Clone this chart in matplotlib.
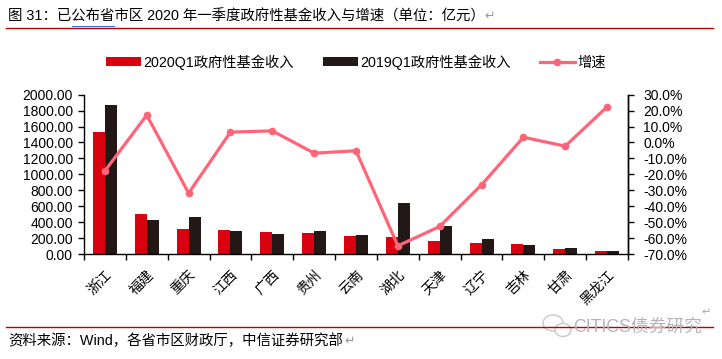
import numpy as np
import matplotlib.pyplot as plt
from matplotlib.lines import Line2D
from matplotlib.patches import Ellipse
from matplotlib.ticker import FuncFormatter, MultipleLocator, FixedLocator

plt.rcParams['font.family'] = ['Liberation Sans', 'Noto Sans CJK SC', 'DejaVu Sans']
plt.rcParams['font.size'] = 10

provinces = ['浙江', '福建', '重庆', '江西', '广西', '贵州', '云南',
             '湖北', '天津', '辽宁', '吉林', '甘肃', '黑龙江']
rev_2020q1 = [1537, 500, 312, 300, 275, 262, 225, 212, 162, 137, 125, 62, 37]
rev_2019q1 = [1875, 425, 462, 287, 250, 287, 237, 637, 350, 187, 112, 75, 37]
growth = [-17.8, 17.2, -31.8, 6.5, 7.3, -6.7, -5.2, -64.9, -52.7, -26.6, 3.3, -2.3, 22.4]

red = '#D9000F'
dark = '#231815'
pink = '#FF6479'
W, H = 722, 359

fig = plt.figure(figsize=(7.22, 3.59), dpi=100)
ax = fig.add_axes([84 / W, 1 - 254 / H, (628 - 84) / W, (254 - 94.7) / H])
ax2 = ax.twinx()

x = np.arange(len(provinces))
w = 0.286
ax.bar(x - w / 2, rev_2020q1, w, color=red, label='2020Q1政府性基金收入')
ax.bar(x + w / 2, rev_2019q1, w, color=dark, label='2019Q1政府性基金收入')
ax2.plot(x, growth, color=pink, lw=2.3, marker='o', ms=4.5, label='增速')

ax.set_xlim(-0.5, len(provinces) - 0.5)
ax.set_ylim(0, 2000)
ax2.set_ylim(-70, 30)
ax.yaxis.set_major_locator(MultipleLocator(200))
ax2.yaxis.set_major_locator(MultipleLocator(10))
ax.yaxis.set_major_formatter(FuncFormatter(lambda v, p: '%.2f' % v))
ax2.yaxis.set_major_formatter(FuncFormatter(lambda v, p: '%.1f%%' % v))

ax.set_xticks(x)
ax.set_xticklabels(provinces, rotation=45, ha='right', rotation_mode='anchor')
ax.tick_params(axis='x', which='major', length=0, pad=10)
ax.xaxis.set_minor_locator(FixedLocator(np.arange(-0.5, len(provinces), 1)))
ax.tick_params(axis='x', which='minor', length=4, width=1)
ax.tick_params(axis='y', length=4, width=1, pad=4)
ax2.tick_params(axis='y', length=4, width=1, pad=7)

for a in (ax, ax2):
    a.spines['top'].set_visible(False)
    for s in ('left', 'right', 'bottom'):
        a.spines[s].set_linewidth(1)
ax2.spines['left'].set_visible(False)
ax2.spines['bottom'].set_visible(False)

h1, l1 = ax.get_legend_handles_labels()
h2, l2 = ax2.get_legend_handles_labels()
fig.legend(h1 + h2, l1 + l2, loc='center', bbox_to_anchor=(356 / W, 1 - 62 / H),
           ncol=3, frameon=False, handlelength=2.45, handleheight=0.65,
           columnspacing=2.0, handletextpad=0.2, fontsize=10.3)

# title and source
fig.text(8 / W, 1 - 16.5 / H, '图 31：已公布省市区 2020 年一季度政府性基金收入与增速（单位：亿元）',
         ha='left', va='center', fontsize=10.4)
fig.text(484 / W, 1 - 16.5 / H, '↵', ha='left', va='center', fontsize=9,
         color='#999999', family=['DejaVu Sans'])
fig.add_artist(Line2D([6 / W, 713 / W], [1 - 28 / H] * 2, color='#C00000', lw=1))
fig.add_artist(Line2D([72 / W, 114 / W], [1 - 25.5 / H] * 2, color='#3A6FD8', lw=0.8))

fig.add_artist(Line2D([6 / W, 713 / W], [1 - 327 / H] * 2, color='#C00000', lw=1))
fig.text(8 / W, 1 - 341 / H, '资料来源：Wind，各省市区财政厅，中信证券研究部',
         ha='left', va='center', fontsize=10.4)
fig.text(344 / W, 1 - 341 / H, '↵', ha='left', va='center', fontsize=9,
         color='#999999', family=['DejaVu Sans'])

# watermark
fig.add_artist(Ellipse((553 / W, 1 - 323 / H), 20 / W, 16 / H, fill=False,
                       ec='#C8C8C8', lw=1, transform=fig.transFigure))
fig.add_artist(Ellipse((563 / W, 1 - 330 / H), 16 / W, 13 / H, fc='white',
                       ec='#C8C8C8', lw=1, transform=fig.transFigure))
fig.text(573 / W, 1 - 327 / H, 'CITICS债券研究', ha='left', va='center',
         fontsize=12.8, color='#B5B5B5')
fig.text(701 / W, 1 - 312 / H, '↵', ha='left', va='center', fontsize=8,
         color='#AAAAAA', family=['DejaVu Sans'])

fig.savefig('out.png', dpi=100)
